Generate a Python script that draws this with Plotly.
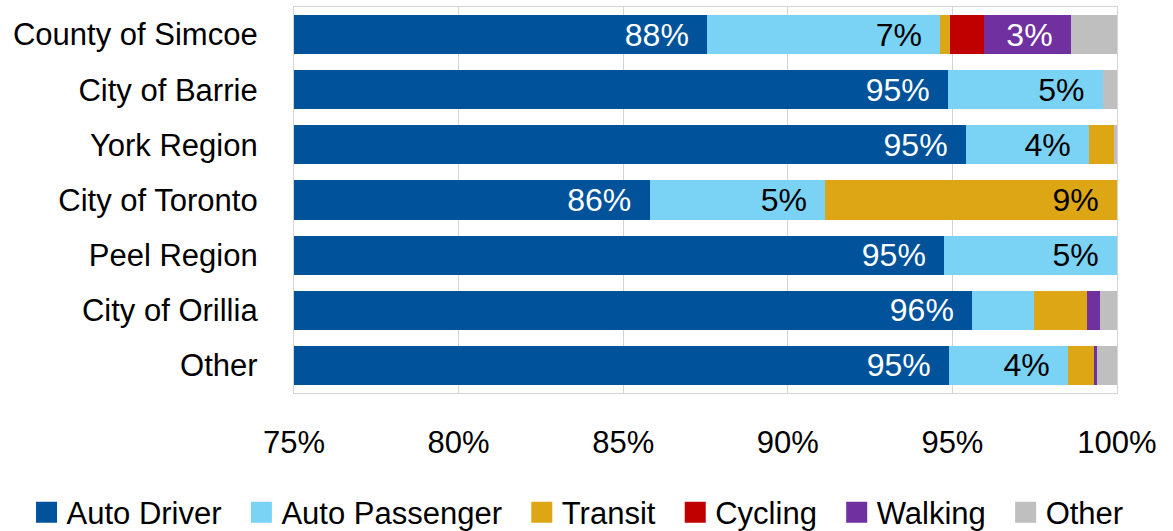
import plotly.graph_objects as go

categories = ["County of Simcoe", "City of Barrie", "York Region", "City of Toronto",
              "Peel Region", "City of Orillia", "Other"]

auto_driver = [87.55, 94.87, 95.41, 85.80, 94.75, 95.60, 94.90]
auto_passenger = [7.08, 4.70, 3.74, 5.34, 5.25, 1.87, 3.61]
transit = [0.31, 0.00, 0.75, 8.86, 0.00, 1.63, 0.79]
cycling = [1.01, 0.00, 0.00, 0.00, 0.00, 0.00, 0.00]
walking = [2.65, 0.00, 0.00, 0.00, 0.00, 0.39, 0.09]
other = [1.40, 0.43, 0.10, 0.00, 0.00, 0.51, 0.61]

series_names = ["Auto Driver", "Auto Passenger", "Transit", "Cycling", "Walking", "Other"]
series_values = [auto_driver, auto_passenger, transit, cycling, walking, other]
series_colors = ["#00539B", "#7AD3F5", "#DDA615", "#C00000", "#7030A0", "#BFBFBF"]
label_colors = ["white", "black", "black", "white", "white", "black"]

x_ticks = [75, 80, 85, 90, 95, 100]

FONT = "Liberation Sans, Arial, sans-serif"
PAD = "\u00a0\u2009"

fig = go.Figure()
for name, vals, col, lcol in zip(series_names, series_values, series_colors, label_colors):
    texts = [(f"{round(v)}%" + PAD) if v >= 2.5 else "" for v in vals]
    fig.add_trace(go.Bar(
        y=categories, x=vals, orientation="h", name=name,
        marker=dict(color=col, line=dict(width=0)),
        text=texts, textposition="inside", insidetextanchor="end",
        textfont=dict(color=lcol, size=32, family=FONT),
        constraintext="none", cliponaxis=True,
        showlegend=False, hoverinfo="skip",
    ))

n_series = len(series_names)
for i, (name, col) in enumerate(zip(series_names, series_colors)):
    legend_name = name + ("\u00a0\u2009" if i < n_series - 1 else "")
    fig.add_trace(go.Scatter(
        x=[None], y=[None], mode="markers", name=legend_name,
        marker=dict(symbol="square", size=16, color=col, line=dict(color=col, width=5)),
        showlegend=True,
    ))

fig.update_layout(
    barmode="stack",
    bargap=0.29,
    width=1173, height=531,
    margin=dict(l=294, r=56, t=7, b=138, autoexpand=False),
    plot_bgcolor="white", paper_bgcolor="white",
    font=dict(family=FONT, color="black"),
    uniformtext=dict(mode=False),
    legend=dict(
        orientation="h", traceorder="normal",
        x=-0.325, y=-0.31, xanchor="left", yanchor="middle",
        font=dict(size=31, family=FONT, color="black"),
        itemclick=False, itemdoubleclick=False,
        bgcolor="rgba(0,0,0,0)",
    ),
    xaxis=dict(
        range=[75, 100], tickvals=x_ticks, ticktext=[f"{t}%" for t in x_ticks],
        showgrid=True, gridcolor="#d4d4d4", gridwidth=1.3,
        showline=True, linecolor="#d4d4d4", linewidth=1.3, mirror=True,
        zeroline=False, ticks="", tickfont=dict(size=31, family=FONT, color="black"),
        ticklabelstandoff=22, fixedrange=True,
    ),
    yaxis=dict(
        autorange="reversed", showgrid=False,
        showline=True, linecolor="#d4d4d4", linewidth=1.3, mirror=True,
        ticks="", tickfont=dict(size=31, family=FONT, color="black"),
        ticklabelstandoff=29, fixedrange=True,
    ),
)

fig.write_html("out.html")
